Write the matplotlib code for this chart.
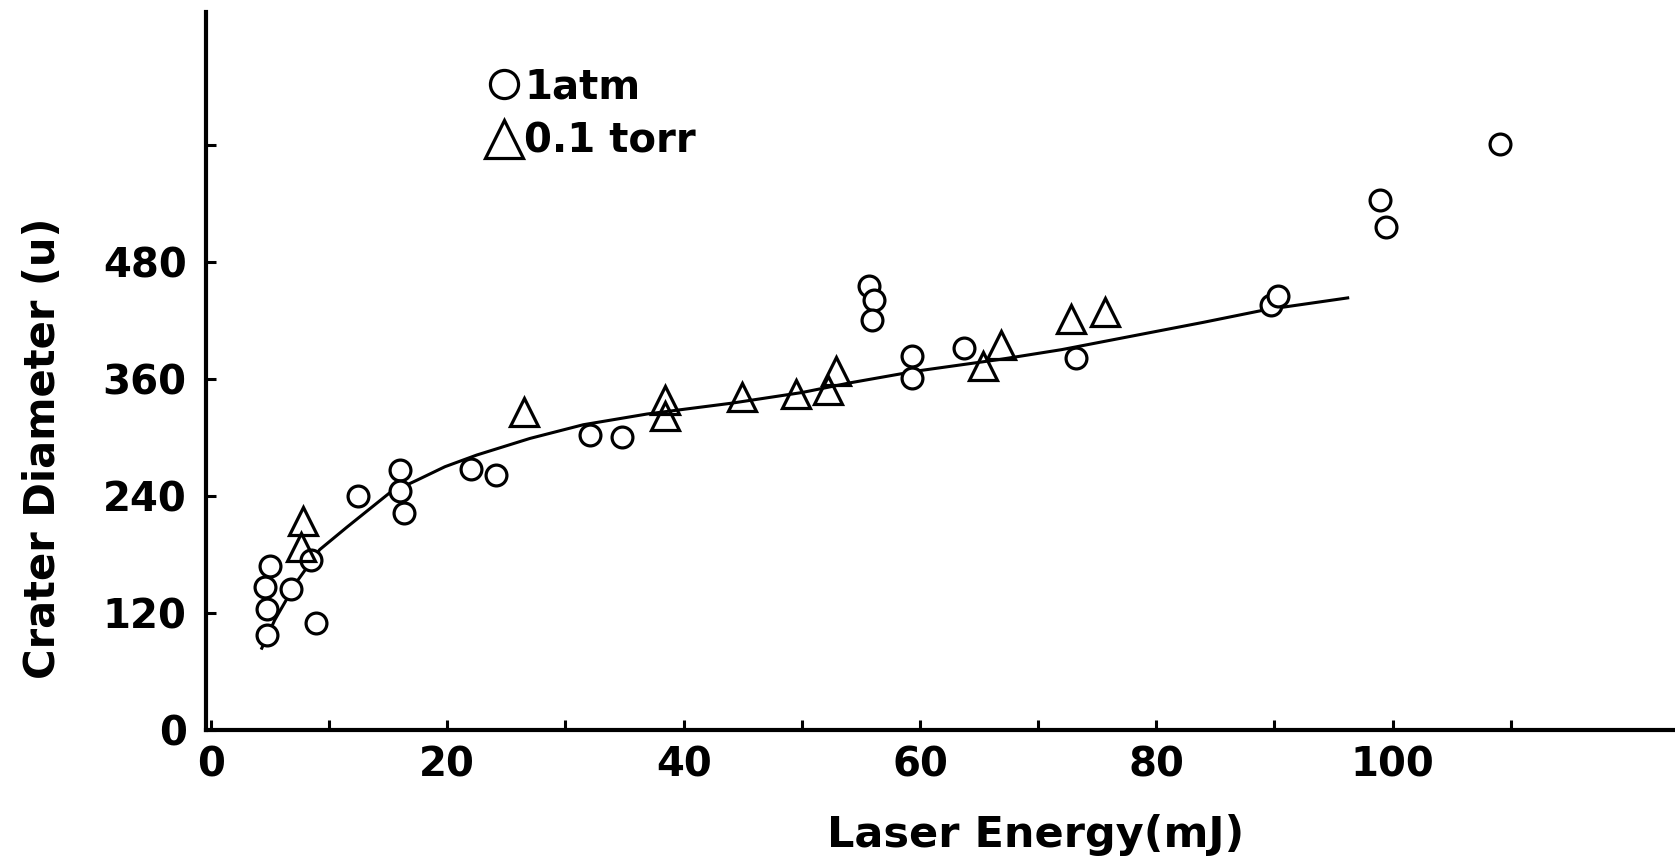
import matplotlib
matplotlib.use("Agg")
import matplotlib.pyplot as plt

# ── data ──────────────────────────────────────────────────────────────────────
ATM_X = [4.6, 4.7, 4.7, 5.0, 6.8, 8.5, 8.9, 12.4, 16.0, 16.0, 16.3, 22.0, 24.1,
         32.1, 34.8, 55.7, 56.1, 55.9, 59.3, 59.3, 63.7, 73.2, 89.7, 90.3,
         98.9, 99.4, 109.1]
ATM_Y = [147, 124, 98, 168, 145, 174, 110, 240, 267, 245, 223, 268, 261,
         302, 300, 455, 441, 420, 383, 361, 392, 381, 436, 445,
         543, 516, 601]

TORR_X = [7.8, 7.6, 26.5, 38.4, 38.4, 44.9, 49.5, 52.2, 52.9, 65.3, 66.9, 72.8, 75.7]
TORR_Y = [214, 188, 326, 338, 322, 341, 345, 349, 368, 373, 395, 421, 429]

# hand-drawn trend curve
FIT_X = [4.3, 5.4, 7.25, 9.2, 11.5, 15.1, 17.4, 19.8, 22.5, 27.0, 31.5, 36.9,
         44.0, 50.0, 54.1, 59.7, 66.8, 72.0, 78.0, 84.0, 89.3, 96.2]
FIT_Y = [84, 113, 152, 185, 208, 243, 256, 270, 282, 299, 313, 324,
         335, 346, 356, 368, 380, 390, 404, 418, 431, 443]

X_TICKS = list(range(0, 120, 10))
X_LABELS = ["0", "", "20", "", "40", "", "60", "", "80", "", "100", ""]
Y_TICKS = [0, 120, 240, 360, 480, 600]
Y_LABELS = ["0", "120", "240", "360", "480", ""]

# ── style ─────────────────────────────────────────────────────────────────────
plt.rcParams["font.family"] = ["DejaVu Sans"]
plt.rcParams["font.weight"] = "bold"
INK = "black"

fig = plt.figure(figsize=(16.75, 8.58), dpi=100, facecolor="white")
ax = fig.add_axes([0.123, 0.149, 0.877, 0.837])

ax.plot(FIT_X, FIT_Y, color=INK, lw=2.2, zorder=2, solid_joinstyle="round")
atm, = ax.plot(ATM_X, ATM_Y, ls="none", marker="o", ms=15, mfc="white",
               mec=INK, mew=2.3, zorder=3, label="1atm")
torr, = ax.plot(TORR_X, TORR_Y, ls="none", marker="^", ms=20, mfc="none",
                mec=INK, mew=2.3, zorder=4, label="0.1 torr")

ax.set_xlim(-0.42, 123.9)
ax.set_ylim(0, 736)

for side in ("top", "right"):
    ax.spines[side].set_visible(False)
for side in ("left", "bottom"):
    ax.spines[side].set_linewidth(3)

ax.set_xticks(X_TICKS)
ax.set_xticklabels(X_LABELS)
ax.set_yticks(Y_TICKS)
ax.set_yticklabels(Y_LABELS)
ax.tick_params(direction="in", length=7, width=2.2, labelsize=29)
ax.tick_params(axis="x", pad=11)
ax.tick_params(axis="y", pad=14)

ax.set_xlabel("Laser Energy(mJ)", fontsize=31, fontweight="bold")
ax.xaxis.set_label_coords(0.565, -0.117)
ax.set_ylabel("Crater Diameter (u)", fontsize=30, fontweight="bold")
ax.yaxis.set_label_coords(-0.097, 0.392)

ax.legend(handles=[atm, torr], loc="upper left", bbox_to_anchor=(0.278, 0.945),
          bbox_transform=fig.transFigure, frameon=False, fontsize=29,
          markerscale=1.35, handlelength=0.9, handletextpad=0.05,
          labelspacing=0.36, borderpad=0)

fig.savefig("out.png", dpi=100, facecolor="white")
